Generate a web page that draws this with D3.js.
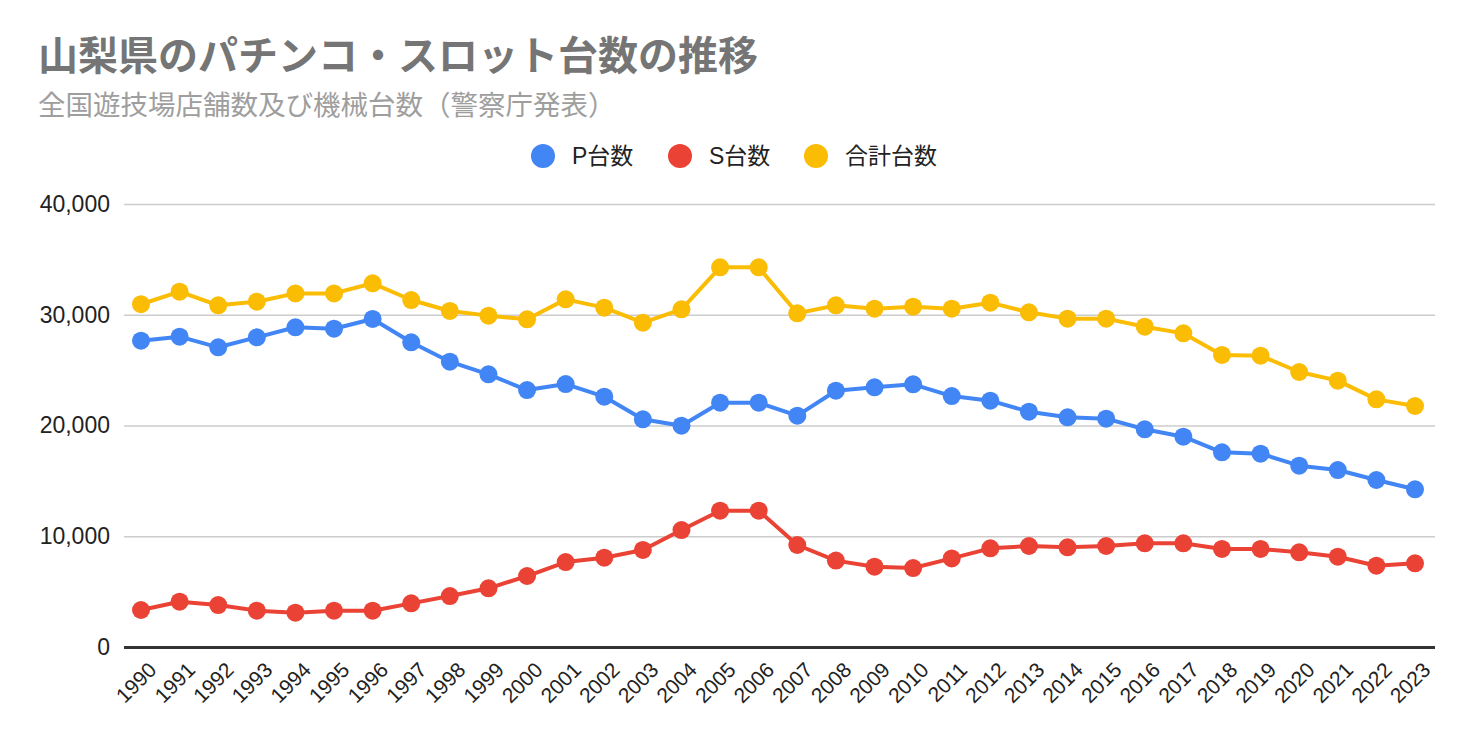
<!DOCTYPE html>
<html><head><meta charset="utf-8">
<script src="https://cdn.jsdelivr.net/npm/d3@7"></script>
<style>body{margin:0;background:#fff;}svg{display:block;font-family:"Liberation Sans",Arial,"Noto Sans CJK JP",sans-serif;}</style>
</head><body>
<svg id="c" width="1472" height="742"></svg>
<script>
const years = ["1990","1991","1992","1993","1994","1995","1996","1997","1998","1999","2000","2001","2002","2003","2004","2005","2006","2007","2008","2009","2010","2011","2012","2013","2014","2015","2016","2017","2018","2019","2020","2021","2022","2023"];
const pValues = [27660,28020,27060,27960,28870,28740,29620,27510,25760,24620,23200,23740,22600,20560,19980,22060,22060,20890,23140,23450,23720,22660,22240,21250,20740,20620,19660,18990,17580,17460,16370,15980,15080,14240];
const sValues = [3340,4090,3790,3280,3100,3280,3280,3940,4600,5300,6410,7670,8060,8760,10560,12310,12310,9210,7800,7250,7130,8000,8910,9120,9000,9120,9360,9360,8850,8850,8550,8150,7340,7560];
const totalValues = [30950,32080,30850,31180,31930,31930,32840,31330,30340,29920,29590,31390,30640,29280,30490,34280,34280,30130,30850,30550,30730,30550,31090,30220,29650,29650,28920,28320,26370,26300,24830,24050,22360,21760];
const yTicks = [0,10000,20000,30000,40000];
const seriesNames = ["P台数","S台数","合計台数"];
const colors = ["#4285f4","#ea4335","#fbbc04"];
const titleText = "山梨県のパチンコ・スロット台数の推移";
const subtitleText = "全国遊技場店舗数及び機械台数（警察庁発表）";

(function(){
const svg = d3.select("#c");
const pL = 124, pR = 1435, pT = 204, pB = 647;
const x = d3.scalePoint().domain(years).range([141, 1415]);
const y = d3.scaleLinear().domain([0, 40000]).range([pB, pT]);

svg.append("text").attr("x", 38).attr("y", 70).attr("font-size", 40).attr("font-weight", "bold")
  .attr("fill", "#757575").attr("font-family", "'Noto Sans CJK JP',sans-serif").text(titleText);
svg.append("text").attr("x", 38).attr("y", 115).attr("font-size", 27.5)
  .attr("fill", "#9e9e9e").attr("font-family", "'Noto Sans CJK JP',sans-serif").text(subtitleText);

const yAxis = d3.axisLeft(y).tickValues(yTicks).tickSize(-(pR - pL)).tickFormat(d3.format(","));
const gy = svg.append("g").attr("transform", `translate(${pL},0)`).call(yAxis);
gy.select(".domain").remove();
gy.selectAll(".tick line").attr("stroke", "#cccccc").attr("stroke-width", 1.5);
gy.selectAll(".tick text").attr("x", -14).attr("font-size", 23).attr("fill", "#222").attr("font-family", "'Liberation Sans',Arial,sans-serif");
gy.selectAll(".tick").filter(d => d === 0).select("line").attr("stroke", "#333").attr("stroke-width", 3);

const xAxis = d3.axisBottom(x).tickSize(0);
const gx = svg.append("g").attr("transform", `translate(0,${pB})`).call(xAxis);
gx.select(".domain").remove();
gx.selectAll(".tick text").attr("font-size", 21).attr("fill", "#222")
  .attr("font-family", "'Liberation Sans',Arial,sans-serif")
  .attr("text-anchor", "end").attr("dy", "0.35em")
  .attr("transform", "translate(9,17) rotate(-45)");

const seriesData = [pValues, sValues, totalValues];
const line = d3.line().x((d, i) => x(years[i])).y(d => y(d));
seriesData.forEach((vals, k) => {
  const g = svg.append("g");
  g.append("path").datum(vals).attr("d", line).attr("fill", "none")
    .attr("stroke", colors[k]).attr("stroke-width", 4).attr("stroke-linejoin", "round");
  g.selectAll("circle").data(vals).join("circle")
    .attr("cx", (d, i) => x(years[i])).attr("cy", d => y(d)).attr("r", 9).attr("fill", colors[k]);
});

const legendX = [543, 680, 816];
seriesNames.forEach((n, k) => {
  svg.append("circle").attr("cx", legendX[k]).attr("cy", 156).attr("r", 12).attr("fill", colors[k]);
  svg.append("text").attr("x", legendX[k] + 29).attr("y", 164).attr("font-size", 23).attr("fill", "#222")
    .attr("font-family", "'Liberation Sans','Noto Sans CJK JP',sans-serif").text(n);
});
})();
</script>
</body></html>
